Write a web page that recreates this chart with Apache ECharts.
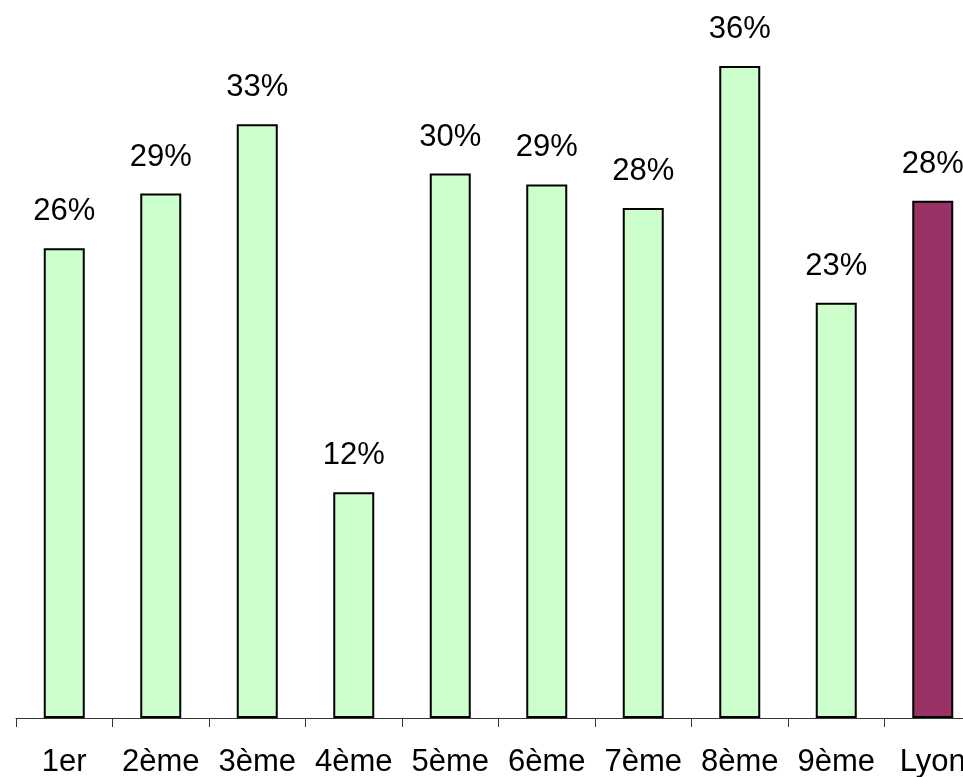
<!DOCTYPE html>
<html>
<head>
<meta charset="utf-8">
<script src="https://cdn.jsdelivr.net/npm/echarts@6/dist/echarts.min.js"></script>
<style>html,body{margin:0;padding:0;background:#fff;}#c{width:963px;height:777px;}</style>
</head>
<body>
<div id="c"></div>
<script>
const categories = ['1er','2ème','3ème','4ème','5ème','6ème','7ème','8ème','9ème','Lyon'];
const values = [25.8, 28.8, 32.6, 12.4, 29.9, 29.3, 28.0, 35.8, 22.8, 28.4];
const barColors = ['#CCFFCC','#CCFFCC','#CCFFCC','#CCFFCC','#CCFFCC','#CCFFCC','#CCFFCC','#CCFFCC','#CCFFCC','#993366'];

const chart = echarts.init(document.getElementById('c'));
chart.setOption({
  animation: false,
  backgroundColor: '#fff',
  grid: { left: 16, width: 965, top: 26, bottom: 59, containLabel: false, outerBoundsMode: 'none' },
  xAxis: {
    type: 'category',
    data: categories,
    axisLine: { lineStyle: { color: '#333', width: 1 } },
    axisTick: { show: true, length: 9, interval: 0, lineStyle: { color: '#333' } },
    axisLabel: { color: '#000', fontFamily: 'Liberation Sans', fontSize: 31, margin: 29, interval: 0, hideOverlap: false }
  },
  yAxis: {
    type: 'value', min: 0, max: 38, show: false,
    splitLine: { show: false }
  },
  series: [{
    type: 'bar',
    data: values.map((v, i) => ({ value: v, itemStyle: { color: barColors[i] } })),
    barWidth: 41,
    itemStyle: { borderColor: '#000', borderWidth: 2 },
    label: {
      show: true, position: 'top', distance: 21,
      color: '#000', fontFamily: 'Liberation Sans', fontSize: 31,
      formatter: p => Math.round(p.value) + '%'
    }
  }]
});
</script>
</body>
</html>
